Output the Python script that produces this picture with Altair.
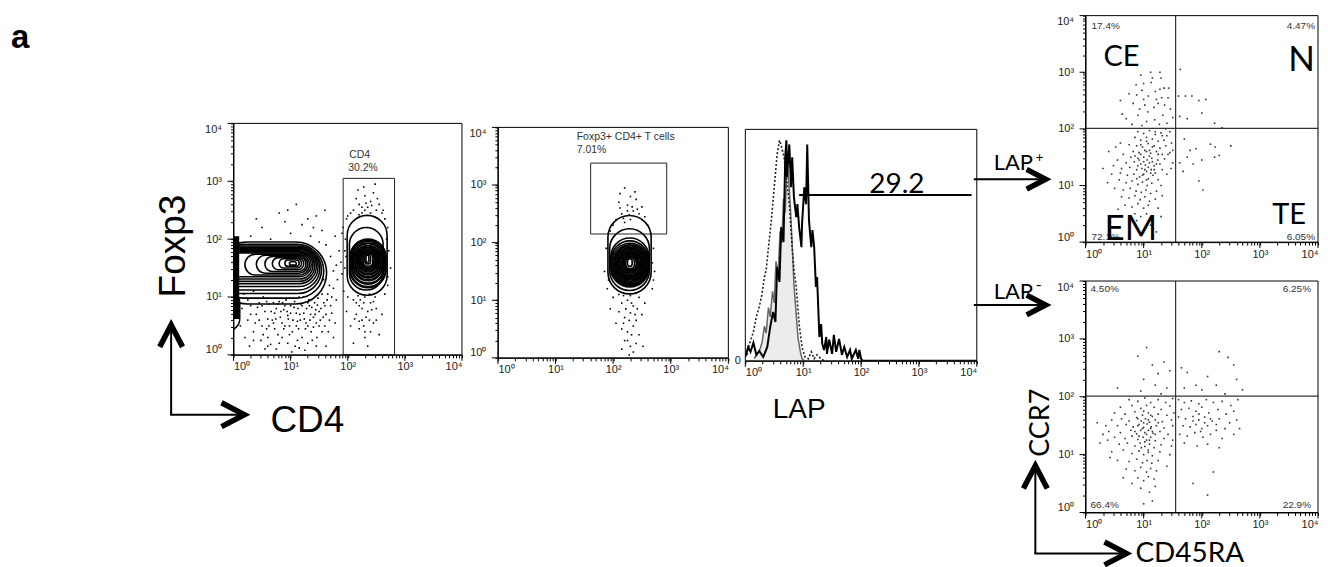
import altair as alt
import numpy as np
import pandas as pd

SANS = "Liberation Sans"
HUM = "Lato"

# ------------------------------------------------------------------
# Panel 1 : CD4 (x) vs Foxp3 (y), log10 units.  contours: [x_lo, x_hi, y_lo, y_hi]
p1_left_contours = [
    [-0.3, 1.63, 0.88, 1.95], [-0.3, 1.58, 0.98, 1.91], [-0.3, 1.54, 1.06, 1.88],
    [-0.3, 1.51, 1.12, 1.86], [-0.3, 1.48, 1.18, 1.84], [-0.3, 1.45, 1.23, 1.82],
    [-0.3, 1.42, 1.27, 1.80], [-0.3, 1.39, 1.31, 1.78], [-0.3, 1.36, 1.35, 1.76],
    [0.20, 1.33, 1.38, 1.74], [0.40, 1.30, 1.41, 1.72], [0.55, 1.27, 1.44, 1.70],
    [0.68, 1.23, 1.47, 1.68], [0.80, 1.19, 1.50, 1.66], [0.90, 1.15, 1.53, 1.64],
    [0.98, 1.10, 1.55, 1.61],
]
p1_band = [[-0.3, 0.10, 0.62, 2.05]]
p1_band_loop = [[-0.3, 0.11, 0.42, 1.10]]
p1_right_contours = [
    [1.99, 2.69, 1.03, 2.41], [2.03, 2.62, 1.12, 2.20], [2.04, 2.67, 1.16, 2.00],
    [2.05, 2.66, 1.18, 1.98], [2.07, 2.64, 1.22, 1.96], [2.08, 2.63, 1.24, 1.93],
    [2.10, 2.61, 1.28, 1.92], [2.11, 2.60, 1.30, 1.89], [2.13, 2.58, 1.33, 1.88],
    [2.14, 2.57, 1.35, 1.86], [2.16, 2.55, 1.38, 1.85], [2.17, 2.54, 1.40, 1.83],
    [2.19, 2.52, 1.43, 1.82], [2.20, 2.51, 1.45, 1.80], [2.22, 2.49, 1.47, 1.79],
    [2.23, 2.48, 1.49, 1.78], [2.25, 2.46, 1.51, 1.77], [2.27, 2.44, 1.53, 1.76],
    [2.30, 2.40, 1.57, 1.74], [2.32, 2.37, 1.60, 1.72],
]
p1_gate = [[1.92, 2.82, 0.0, 3.05]]
p1_dots = [
    (0.15, 0.8), (0.25, 0.6), (0.3, 0.85), (0.35, 0.4), (0.4, 0.7), (0.45, 0.9), (0.5, 0.5),
    (0.55, 0.75), (0.6, 0.3), (0.62, 0.88), (0.68, 0.6), (0.72, 0.45), (0.75, 0.8), (0.8, 0.2),
    (0.82, 0.65), (0.86, 0.9), (0.9, 0.5), (0.94, 0.75), (0.98, 0.35), (1.0, 0.85), (1.04, 0.6),
    (1.08, 0.15), (1.1, 0.72), (1.14, 0.45), (1.18, 0.88), (1.2, 0.3), (1.24, 0.62), (1.28, 0.8),
    (1.3, 0.5), (1.35, 0.7), (1.38, 0.25), (1.42, 0.9), (1.45, 0.55), (1.5, 0.75), (1.55, 0.4),
    (1.6, 0.85), (1.68, 0.6), (1.75, 0.3), (0.2, 0.3), (0.28, 0.15), (0.55, 0.1), (0.7, 0.9),
    (0.92, 0.95), (1.15, 1.0), (1.32, 0.95), (1.48, 0.98), (0.38, 0.55), (0.65, 0.18),
    (1.62, 0.15), (1.02, 0.05), (0.48, 0.25), (0.78, 0.35), (1.25, 0.08), (0.12, 0.5),
    (0.18, 1.05), (0.35, 1.1), (0.52, 1.0), (0.6, 0.62), (0.72, 0.72), (0.85, 0.55), (0.88, 0.78),
    (0.96, 0.62), (1.06, 0.82), (1.12, 0.58), (1.16, 0.7), (1.22, 1.0), (1.26, 0.45), (1.33, 0.85),
    (1.4, 0.65), (1.44, 0.78), (1.52, 0.6), (1.58, 0.9), (1.62, 0.7), (1.7, 0.85), (0.42, 0.82),
    (0.58, 0.45), (0.66, 0.75), (0.8, 0.92), (0.98, 0.5), (1.36, 0.4), (1.46, 0.3), (1.55, 1.05),
    (1.75, 1.15), (0.25, 0.95),
    (0.3, 0.7), (0.45, 0.6), (0.5, 0.85), (0.58, 0.92), (0.62, 0.5), (0.7, 0.55), (0.74, 0.62),
    (0.77, 0.88), (0.83, 0.75), (0.88, 0.45), (0.9, 0.85), (0.95, 0.68), (1.0, 0.72), (1.03, 0.4),
    (1.07, 0.92), (1.1, 0.5), (1.13, 0.8), (1.17, 0.6), (1.2, 0.85), (1.23, 0.72), (1.27, 0.55),
    (1.3, 0.9), (1.34, 0.6), (1.37, 0.82), (1.4, 0.48), (1.43, 0.7), (1.47, 0.86), (1.5, 0.5),
    (1.53, 0.8), (1.57, 0.65), (1.6, 0.5), (1.64, 0.95), (1.66, 0.4), (1.72, 0.72), (1.78, 0.55),
    (1.8, 0.95), (0.35, 0.25), (0.52, 0.35), (0.6, 0.15), (0.85, 0.3), (0.95, 0.2), (1.12, 0.25),
    (1.3, 0.2), (1.45, 0.15), (1.15, 0.12), (0.75, 0.1),
    (0.5, 2.2), (0.8, 2.45), (1.0, 2.1), (1.2, 2.25), (1.35, 2.05), (1.45, 2.4), (1.55, 2.15),
    (1.62, 1.9), (1.7, 1.7), (1.75, 1.45), (1.68, 1.2), (1.72, 1.0), (1.8, 1.55), (1.85, 1.8),
    (1.78, 2.05), (1.6, 2.5), (0.3, 2.05), (0.65, 2.0), (0.9, 2.3), (1.1, 2.6), (1.3, 2.35),
    (1.58, 1.3), (1.65, 1.05), (1.82, 1.3), (0.4, 2.35), (1.5, 1.95), (1.4, 2.2), (1.88, 1.6),
    (1.9, 2.1), (0.95, 2.5),
    (2.1, 2.5), (2.2, 2.6), (2.3, 2.75), (2.35, 2.55), (2.4, 2.65), (2.45, 2.8), (2.5, 2.5),
    (2.28, 2.9), (2.15, 2.7), (2.55, 2.6), (2.05, 2.45), (2.6, 2.45), (2.4, 2.45), (2.25, 2.45),
    (2.48, 2.95), (2.18, 2.85), (2.25, 2.55), (2.32, 2.62), (2.42, 2.58), (2.3, 2.5), (2.2, 2.42),
    (2.52, 2.7), (2.0, 2.4), (2.62, 2.5),
    (1.92, 2.2), (1.95, 1.8), (1.9, 1.4), (1.93, 1.1), (2.7, 2.2), (2.72, 1.8), (2.75, 1.5),
    (2.7, 1.2), (2.65, 2.35), (1.98, 2.35), (2.0, 1.0), (2.65, 1.05), (1.95, 1.5), (1.97, 1.7),
    (1.96, 2.0), (2.68, 1.6), (2.7, 1.35), (2.68, 2.0),
    (2.1, 0.95), (2.2, 0.85), (2.3, 1.0), (2.4, 0.9), (2.5, 0.8), (2.15, 0.7), (2.25, 0.6),
    (2.35, 0.75), (2.45, 0.55), (2.2, 0.45), (2.3, 0.3), (2.4, 0.4), (2.05, 0.5), (2.55, 0.35),
    (2.1, 0.2), (2.35, 0.15), (2.28, 0.9), (2.38, 1.05), (2.18, 1.02), (2.48, 1.0), (1.98, 0.75),
    (2.6, 0.7), (2.15, 0.9), (2.25, 0.8), (2.32, 0.65), (2.42, 0.78), (2.28, 0.5), (2.38, 0.6),
    (2.22, 0.95), (2.45, 0.92), (2.12, 0.62), (2.5, 0.6), (2.3, 0.4), (2.2, 0.58),
]

# ------------------------------------------------------------------
# Panel 2 : gated CD4+ cells
p2_contours = [
    [1.91, 2.66, 1.11, 2.47], [1.94, 2.63, 1.17, 2.24], [1.96, 2.62, 1.23, 2.08],
    [1.97, 2.61, 1.25, 2.03], [1.98, 2.61, 1.27, 1.99], [2.00, 2.60, 1.29, 1.96],
    [2.01, 2.59, 1.31, 1.94], [2.03, 2.57, 1.33, 1.92], [2.04, 2.56, 1.35, 1.90],
    [2.06, 2.54, 1.37, 1.88], [2.07, 2.53, 1.39, 1.86], [2.09, 2.51, 1.41, 1.85],
    [2.10, 2.50, 1.43, 1.83], [2.12, 2.48, 1.45, 1.82], [2.14, 2.46, 1.47, 1.80],
    [2.16, 2.44, 1.49, 1.79], [2.18, 2.42, 1.51, 1.77], [2.20, 2.40, 1.53, 1.76],
    [2.22, 2.37, 1.55, 1.74], [2.25, 2.33, 1.59, 1.72],
]
p2_gate = [[1.61, 2.93, 2.15, 3.38]]
p2_dots = [
    (2.2, 2.95), (2.3, 2.8), (2.1, 2.7), (2.25, 2.65), (2.4, 2.75), (2.35, 2.55), (2.15, 2.5),
    (2.45, 2.5), (2.05, 2.4), (2.55, 2.45), (2.3, 2.4), (2.0, 2.3), (2.6, 2.3), (2.2, 2.35),
    (2.5, 2.62), (2.12, 2.85), (2.38, 2.88), (2.25, 2.55), (2.33, 2.62), (2.42, 2.58),
    (2.18, 2.42), (2.28, 2.48), (2.5, 2.4), (2.12, 2.6),
    (1.88, 1.9), (1.85, 1.5), (1.9, 1.2), (2.7, 1.9), (2.72, 1.5), (2.68, 1.2), (1.95, 2.2),
    (2.65, 2.15), (1.95, 1.6), (2.68, 1.65), (1.92, 1.35), (2.7, 1.35),
    (2.0, 1.05), (2.15, 0.95), (2.25, 1.0), (2.35, 0.9), (2.45, 1.05), (2.55, 0.95), (2.1, 0.8),
    (2.2, 0.7), (2.3, 0.78), (2.4, 0.65), (2.5, 0.75), (2.05, 0.6), (2.15, 0.5), (2.25, 0.45),
    (2.35, 0.55), (2.45, 0.4), (2.2, 0.3), (2.3, 0.2), (2.4, 0.25), (2.28, 0.05), (2.15, 0.15),
    (2.52, 0.2), (2.18, 1.08), (2.4, 1.12), (1.95, 0.85), (2.32, 0.95), (2.22, 0.85),
    (2.42, 0.85), (2.28, 0.65), (2.18, 0.6), (2.38, 0.75), (2.32, 0.4), (2.25, 0.3), (2.35, 0.1),
    (2.3, 1.08), (2.1, 1.1),
]

# ------------------------------------------------------------------
# Panel 3 : LAP histograms (x log10, y % of max)
h_ctrl_x = [0.15, 0.24, 0.29, 0.33, 0.36, 0.40, 0.43, 0.47, 0.50, 0.53, 0.57, 0.60, 0.63,
            0.66, 0.69, 0.72, 0.75, 0.78, 0.81, 0.84, 0.88, 0.91, 0.95, 0.98, 1.02]
h_ctrl_y = [1, 4, 8, 15, 12, 23, 19, 30, 25, 43, 38, 56, 51, 70, 64, 86, 78, 66, 50, 33, 20,
            10, 4, 1, 0]
h_dot_x = [0.03, 0.07, 0.14, 0.19, 0.24, 0.28, 0.33, 0.36, 0.41, 0.45, 0.50, 0.53, 0.55, 0.59,
           0.62, 0.67, 0.72, 0.76, 0.81, 0.84, 0.88, 0.93, 0.98, 1.03, 1.09, 1.14, 1.19, 1.24,
           1.29, 1.36]
h_dot_y = [2.6, 7.3, 12.5, 19.0, 23.3, 27.6, 36.2, 39.2, 51.3, 60.8, 75.0, 83.6, 89.2, 95.3,
           93.1, 87.9, 77.2, 67.7, 49.1, 39.7, 31.9, 15.9, 6.0, 1.7, 0.9, 3.9, 0.9, 2.6, 1.3, 0]
h_lap_x = [0.0, 0.05, 0.09, 0.14, 0.19, 0.24, 0.31, 0.38, 0.43, 0.48, 0.52, 0.55, 0.59, 0.62,
           0.66, 0.69, 0.71, 0.72, 0.76, 0.79, 0.81, 0.84, 0.88, 0.90, 0.93, 0.97, 0.98, 1.02,
           1.05, 1.07, 1.10, 1.14, 1.16, 1.19, 1.22, 1.24, 1.28, 1.31, 1.33, 1.36, 1.40, 1.41,
           1.45, 1.50, 1.53, 1.57, 1.62, 1.67, 1.71, 1.76, 1.81, 1.84, 1.91, 1.95, 1.97, 2.00,
           2.03, 4.0]
h_lap_y = [1.7, 6.0, 3.9, 7.8, 2.6, 4.3, 1.7, 6.0, 14.7, 21.1, 16.8, 40.5, 34.1, 57.8, 51.3,
           87.9, 95.3, 79.3, 93.5, 75.0, 87.9, 70.7, 62.1, 67.7, 57.8, 49.1, 59.1, 75.0, 67.7,
           93.5, 60.8, 49.1, 56.5, 49.1, 31.9, 36.2, 10.3, 15.9, 7.3, 4.7, 10.3, 3.0, 9.1, 3.0,
           11.2, 3.9, 9.5, 2.6, 6.0, 1.7, 4.7, 0.9, 4.7, 0.9, 4.7, 0.9, 0, 0]
lap_gate = [[0.93, 3.91, 71.7]]

# ------------------------------------------------------------------
# Right panels : CD45RA (x) vs CCR7 (y), log10 units
quad_x, quad_y = 1.55, 2.01
lapp_dots = [
    (0.95, 2.95), (1.12, 3.0), (1.28, 3.0), (1.0, 2.8), (1.13, 2.82), (1.35, 2.72), (1.28, 2.7),
    (0.75, 2.62), (0.88, 2.6), (0.97, 2.68), (1.08, 2.58), (1.2, 2.66), (1.31, 2.55), (1.43, 2.72),
    (0.82, 2.45), (1.02, 2.42), (1.25, 2.45), (1.36, 2.42), (0.7, 2.18), (0.9, 2.24), (1.07, 2.3),
    (1.19, 2.16), (1.33, 2.24), (0.97, 2.06), (1.4, 2.1), (0.63, 2.26), (1.15, 2.9), (1.22, 2.52),
    (0.93, 2.35), (1.46, 2.35), (1.05, 2.13), (0.8, 2.08), (1.27, 2.08), (1.42, 2.55), (0.87, 2.78),
    (1.5, 2.2), (0.6, 2.5), (1.18, 2.38), (1.3, 2.9), (1.0, 2.52),
    (1.63, 3.05), (1.6, 2.58), (1.72, 2.58), (1.83, 2.58), (1.95, 2.5), (2.07, 2.52), (1.62, 2.22),
    (1.75, 2.18), (2.0, 2.28), (2.22, 2.1), (2.35, 2.02),
    (1.7, 1.82), (1.8, 1.62), (1.9, 1.65), (1.75, 1.5), (2.0, 1.45), (1.62, 1.4), (1.85, 1.38),
    (2.15, 1.73), (2.23, 1.68), (2.3, 1.53), (2.22, 1.5), (2.5, 1.7), (1.95, 1.08), (2.02, 0.92),
    (1.68, 1.25),
    (0.9, 1.95), (1.0, 1.92), (1.1, 1.97), (1.2, 1.9), (1.3, 1.93), (1.4, 1.88), (0.85, 1.85),
    (0.95, 1.8), (1.05, 1.85), (1.15, 1.82), (1.25, 1.78), (1.35, 1.8), (1.48, 1.75), (0.75, 1.72),
    (0.88, 1.7), (0.98, 1.68), (1.08, 1.74), (1.18, 1.7), (1.28, 1.66), (1.38, 1.7), (0.6, 1.75),
    (0.82, 1.6), (0.92, 1.58), (1.02, 1.62), (1.12, 1.57), (1.22, 1.6), (1.32, 1.55), (1.45, 1.58),
    (0.65, 1.55), (0.78, 1.5), (0.9, 1.48), (1.0, 1.5), (1.06, 1.45), (1.14, 1.48), (1.24, 1.45),
    (1.36, 1.47), (0.55, 1.45), (0.7, 1.4), (0.84, 1.42), (0.95, 1.38), (1.03, 1.36), (1.1, 1.4),
    (1.18, 1.35), (1.28, 1.38), (1.5, 1.4), (0.48, 1.35), (0.62, 1.3), (0.76, 1.32), (0.88, 1.28),
    (0.97, 1.3), (1.05, 1.25), (1.13, 1.28), (1.2, 1.22), (1.32, 1.28), (0.45, 1.2), (0.6, 1.22),
    (0.72, 1.18), (0.83, 1.2), (0.93, 1.15), (1.0, 1.2), (1.08, 1.12), (1.16, 1.18), (1.25, 1.1),
    (1.4, 1.2), (0.58, 1.1), (0.7, 1.05), (0.8, 1.08), (0.9, 1.02), (0.98, 1.06), (1.06, 1.0),
    (1.14, 1.04), (1.3, 1.0), (0.5, 0.95), (0.65, 0.92), (0.77, 0.95), (0.87, 0.9), (0.96, 0.88),
    (1.04, 0.92), (1.12, 0.86), (1.22, 0.9), (0.62, 0.8), (0.75, 0.78), (0.85, 0.82), (0.94, 0.75),
    (1.02, 0.8), (1.1, 0.72), (1.2, 0.76), (1.32, 0.82), (0.68, 0.65), (0.8, 0.62), (0.9, 0.68),
    (1.0, 0.6), (1.08, 0.65), (1.25, 0.6), (0.85, 0.5), (0.95, 0.45), (1.05, 0.5), (1.15, 0.42),
    (0.88, 0.38), (1.12, 0.3), (1.22, 0.18), (0.3, 1.3), (0.4, 1.6), (0.52, 1.68), (1.45, 1.95),
    (1.42, 1.55), (1.5, 1.62), (1.47, 1.3), (0.38, 1.05), (0.56, 0.58), (1.3, 0.45),
    (0.95, 1.55), (1.05, 1.6), (1.1, 1.52), (1.0, 1.42), (0.92, 1.45), (1.08, 1.32), (1.15, 1.42),
    (0.9, 1.35), (1.02, 1.28), (1.12, 1.22), (0.98, 1.18), (0.88, 1.12), (1.05, 1.1), (1.18, 1.28),
    (1.22, 1.38), (1.1, 1.62), (0.85, 1.52), (1.25, 1.55), (1.15, 1.68), (0.95, 1.72), (1.05, 1.78),
    (1.2, 1.95), (1.32, 1.88), (1.38, 2.0),
]
lapn_dots = [
    (0.9, 2.7), (1.05, 2.85), (1.15, 2.55), (1.25, 2.4), (1.35, 2.6), (1.45, 2.45), (1.0, 2.3),
    (1.2, 2.2), (1.4, 2.15), (0.95, 2.1), (1.3, 2.05), (0.55, 2.15),
    (1.65, 2.5), (1.75, 2.42), (2.3, 2.78), (2.45, 2.68), (2.55, 2.55), (2.1, 2.35), (1.9, 2.2),
    (2.0, 2.12), (2.25, 2.2), (2.6, 2.3), (2.7, 2.12), (1.7, 2.15), (2.4, 2.05),
    (1.6, 1.95), (1.7, 1.9), (1.82, 1.93), (1.95, 1.88), (2.08, 1.95), (2.2, 1.9), (2.35, 1.92),
    (2.5, 1.85), (2.62, 1.95), (1.65, 1.78), (1.78, 1.8), (1.9, 1.75), (2.0, 1.82), (2.12, 1.72),
    (2.28, 1.78), (2.42, 1.7), (2.55, 1.75), (1.6, 1.65), (1.72, 1.62), (1.85, 1.66), (1.95, 1.6),
    (2.05, 1.65), (2.18, 1.58), (2.3, 1.62), (2.48, 1.55), (2.6, 1.6), (1.68, 1.5), (1.8, 1.48),
    (1.9, 1.52), (2.0, 1.45), (2.1, 1.5), (2.25, 1.42), (2.4, 1.45), (1.62, 1.35), (1.75, 1.32),
    (1.88, 1.38), (2.02, 1.3), (2.15, 1.35), (2.35, 1.28), (2.55, 1.35), (1.7, 1.2), (1.92, 1.15),
    (2.1, 1.18), (2.3, 1.12), (2.65, 1.45), (1.85, 0.5), (2.1, 0.3), (2.2, 0.7),
    (1.95, 1.7), (2.05, 1.55), (2.15, 1.62), (1.85, 1.58), (2.25, 1.52), (1.98, 1.4),
    (0.75, 1.95), (0.9, 1.92), (1.02, 1.98), (1.12, 1.9), (1.25, 1.95), (1.38, 1.9), (1.5, 1.97),
    (0.6, 1.82), (0.8, 1.85), (0.95, 1.8), (1.05, 1.85), (1.18, 1.82), (1.3, 1.78), (1.45, 1.84),
    (0.5, 1.72), (0.68, 1.7), (0.85, 1.74), (0.98, 1.68), (1.08, 1.72), (1.15, 1.66), (1.25, 1.7),
    (1.4, 1.68), (1.52, 1.72), (0.45, 1.6), (0.62, 1.62), (0.75, 1.58), (0.88, 1.64), (0.96, 1.58),
    (1.03, 1.62), (1.1, 1.56), (1.2, 1.6), (1.32, 1.57), (1.48, 1.6), (0.55, 1.5), (0.7, 1.52),
    (0.82, 1.48), (0.92, 1.52), (1.0, 1.47), (1.06, 1.53), (1.13, 1.48), (1.22, 1.5), (1.35, 1.46),
    (1.5, 1.5), (0.4, 1.4), (0.6, 1.38), (0.78, 1.42), (0.88, 1.36), (0.95, 1.42), (1.02, 1.38),
    (1.08, 1.42), (1.16, 1.37), (1.28, 1.4), (1.42, 1.35), (0.5, 1.3), (0.68, 1.28), (0.8, 1.32),
    (0.9, 1.26), (0.99, 1.3), (1.05, 1.25), (1.12, 1.3), (1.2, 1.24), (1.35, 1.28), (1.5, 1.25),
    (0.58, 1.18), (0.72, 1.2), (0.85, 1.15), (0.94, 1.2), (1.02, 1.14), (1.1, 1.18), (1.18, 1.12),
    (1.3, 1.17), (0.45, 1.05), (0.65, 1.08), (0.8, 1.02), (0.92, 1.06), (1.0, 1.0), (1.08, 1.04),
    (1.15, 0.98), (1.28, 1.05), (1.45, 1.0), (0.55, 0.9), (0.75, 0.88), (0.88, 0.92), (0.98, 0.86),
    (1.06, 0.9), (1.14, 0.85), (1.25, 0.9), (0.7, 0.75), (0.85, 0.72), (0.95, 0.78), (1.05, 0.7),
    (1.12, 0.76), (1.22, 0.72), (0.9, 0.6), (1.0, 0.55), (1.08, 0.62), (1.18, 0.58), (0.8, 0.5),
    (0.95, 0.42), (1.1, 0.35), (1.2, 0.45), (1.0, 0.15), (1.15, 0.2), (0.35, 1.5), (0.38, 1.25),
    (0.42, 0.95), (0.3, 1.35), (0.2, 1.55), (0.25, 1.2), (0.65, 0.6), (1.4, 0.8), (1.48, 1.15),
    (1.0, 1.55), (1.08, 1.6), (1.12, 1.45), (0.98, 1.45), (0.9, 1.5), (1.05, 1.35), (1.15, 1.4),
    (0.92, 1.32), (1.02, 1.22), (1.1, 1.25), (0.96, 1.12), (1.08, 1.08), (1.2, 1.35), (0.85, 1.4),
    (1.25, 1.55), (1.12, 1.68), (0.9, 1.62), (1.0, 1.75),
]

# ------------------------------------------------------------------
ONE = pd.DataFrame({"k": [0]})
MAJ = [0, 1, 2, 3, 4]
MINORS = [float(round(d + np.log10(k), 4)) for d in range(4) for k in range(2, 10)]
LABEL_EXPR = ("datum.value == 0 ? '10⁰' : datum.value == 1 ? '10¹' : datum.value == 2 ? '10²' : "
              "datum.value == 3 ? '10³' : datum.value == 4 ? '10⁴' : ''")


def log_axis(pad, **extra):
    return alt.Axis(values=MAJ + MINORS, labelExpr=LABEL_EXPR, title=None, grid=False,
                    tickSize=3, tickColor="black", domainColor="black", labelFont=SANS,
                    labelFontSize=11, labelColor="#222", labelPadding=pad, labelFlush=True,
                    labelOverlap=False, **extra)


def make_panel(w, top, bot, xoffset=0, ydomain=(0, 4), yaxis=None):
    """A panel occupies x in [0, w] and y in [top, bot] of its chart (pixels)."""
    xa = log_axis(3, orient="bottom", offset=xoffset) if xoffset else log_axis(3, orient="bottom")
    return dict(
        w=w, top=top, bot=bot,
        sx=alt.Scale(domain=[0, 4], range=[0, w], nice=False, zero=False),
        sy=alt.Scale(domain=list(ydomain), range=[bot, top], nice=False, zero=False),
        ax=xa,
        ay=yaxis if yaxis is not None else log_axis(9, orient="left"),
    )


def X(P, f):
    return alt.X(f"{f}:Q", scale=P["sx"], axis=P["ax"])


def Y(P, f):
    return alt.Y(f"{f}:Q", scale=P["sy"], axis=P["ay"])


def rects(P, rows, **mk):
    df = pd.DataFrame(rows, columns=["x1", "x2", "y1", "y2"])
    return alt.Chart(df).mark_rect(**mk).encode(
        x=X(P, "x1"), x2=alt.X2("x2"), y=Y(P, "y1"), y2=alt.Y2("y2"))


def dots(P, pairs, color, size):
    df = pd.DataFrame(pairs, columns=["x", "y"])
    return alt.Chart(df).mark_square(size=size, color=color, opacity=1).encode(
        x=X(P, "x"), y=Y(P, "y"))


def major_ticks(P, with_y=True):
    df = pd.DataFrame({"v": MAJ})
    layers = [alt.Chart(df).mark_rule(color="black", strokeWidth=1).encode(
        x=X(P, "v"), y=alt.value(P["bot"]), y2=alt.value(P["bot"] + 6))]
    if with_y:
        layers.append(alt.Chart(df).mark_rule(color="black", strokeWidth=1).encode(
            y=Y(P, "v"), x=alt.value(0), x2=alt.value(-6)))
    return layers


def frame(P):
    return alt.Chart(ONE).mark_rect(fillOpacity=0, stroke="black", strokeWidth=1).encode(
        x=alt.value(0), x2=alt.value(P["w"]), y=alt.value(P["top"]), y2=alt.value(P["bot"]))


def txt(s, x, y, size, font=SANS, align="left", baseline="alphabetic", angle=0,
        weight="normal", color="black"):
    return alt.Chart(ONE).mark_text(text=s, align=align, baseline=baseline, angle=angle,
                                    fontSize=size, font=font, fontWeight=weight,
                                    color=color).encode(x=alt.value(x), y=alt.value(y))


def seg(x1, y1, x2, y2, w=2):
    return alt.Chart(ONE).mark_rule(color="black", strokeWidth=w).encode(
        x=alt.value(x1), y=alt.value(y1), x2=alt.value(x2), y2=alt.value(y2))


CHEV_R = "M-1,-0.52L0,0L-1,0.52"
CHEV_U = "M-0.52,1L0,0L0.52,1"


def chev(x, y, path, unit):
    return alt.Chart(ONE).mark_point(shape=path, size=(2 * unit) ** 2, filled=False,
                                     color="black", strokeWidth=5.5, opacity=1,
                                     strokeJoin="miter").encode(x=alt.value(x), y=alt.value(y))


def spacer(w, h):
    return alt.Chart(ONE).mark_text(text="").encode(
        x=alt.value(0), y=alt.value(0)).properties(width=w, height=h)


PCT = dict(size=10, color="#333")
CONT = dict(fillOpacity=0, stroke="black", strokeWidth=1.6, cornerRadius=999, clip=True)
FULL_H = 558

# ---------------- panel 1 (page x 233-462, y 116-348) ----------------
P1 = make_panel(229, 108, 340)
panel1 = alt.layer(
    rects(P1, p1_band, color="black", clip=True),
    rects(P1, p1_band_loop, fillOpacity=0, stroke="black", strokeWidth=1.5, cornerRadius=999, clip=True),
    dots(P1, p1_dots, "black", 2.5),
    rects(P1, p1_left_contours, **CONT),
    rects(P1, p1_right_contours, **CONT),
    rects(P1, p1_gate, fillOpacity=0, stroke="#222", strokeWidth=1),
    *major_ticks(P1),
    frame(P1),
    txt("CD4", 116, 108 + 35, 10.5, color="#333"),
    txt("30.2%", 115, 108 + 48, 10.5, color="#333"),
).properties(width=229, height=340)

# ---------------- panel 2 (page x 498-729, y 120-351) ----------------
P2 = make_panel(231, 112, 343)
panel2 = alt.layer(
    dots(P2, p2_dots, "black", 2.5),
    rects(P2, p2_contours, **CONT),
    rects(P2, p2_gate, fillOpacity=0, stroke="#222", strokeWidth=1),
    *major_ticks(P2),
    frame(P2),
    txt("Foxp3+ CD4+ T cells", 79, 112 + 13, 10.5, color="#333"),
    txt("7.01%", 79, 112 + 26, 10.5, color="#333"),
).properties(width=231, height=343)

# ---------------- panel 3 (page x 746-978, y 122-354) ----------------
AX3 = alt.Axis(values=[0], title=None, grid=False, ticks=False, domain=False, labelFont=SANS,
               labelFontSize=11, labelColor="#222", labelPadding=5, orient="left")
P3 = make_panel(232, 114, 346, ydomain=(0, 100), yaxis=AX3)
ctrl_df = pd.DataFrame({"x": h_ctrl_x, "y": h_ctrl_y})
dot_df = pd.DataFrame({"x": h_dot_x, "y": h_dot_y})
lap_df = pd.DataFrame({"x": h_lap_x, "y": h_lap_y})
gate3_df = pd.DataFrame(lap_gate, columns=["x1", "x2", "y"])
panel3 = alt.layer(
    alt.Chart(ctrl_df).mark_area(color="#ececec", opacity=1, clip=True).encode(
        x=X(P3, "x"), y=Y(P3, "y")),
    alt.Chart(ctrl_df).mark_line(color="#666", strokeWidth=1.5, clip=True).encode(
        x=X(P3, "x"), y=Y(P3, "y")),
    alt.Chart(dot_df).mark_line(color="#222", strokeWidth=1.6, strokeDash=[2, 2], clip=True).encode(
        x=X(P3, "x"), y=Y(P3, "y")),
    alt.Chart(lap_df).mark_line(color="black", strokeWidth=2, clip=True).encode(
        x=X(P3, "x"), y=Y(P3, "y")),
    alt.Chart(gate3_df).mark_rule(color="black", strokeWidth=2).encode(
        x=X(P3, "x1"), x2=alt.X2("x2"), y=Y(P3, "y")),
    *major_ticks(P3, with_y=False),
    frame(P3),
    txt("29.2", 152, 114 + 64, 28, font=HUM, align="center"),
    txt("LAP", 54, 114 + 289, 28, align="center"),
).properties(width=232, height=346)

# ---------------- right column (page x 1087-1320) ----------------
RT = make_panel(233, 0, 227, xoffset=-(FULL_H - 227))
RB = make_panel(233, 266, 498, xoffset=-(FULL_H - 498))


def quads(P):
    return [alt.Chart(pd.DataFrame({"qx": [quad_x]})).mark_rule(color="#333", strokeWidth=1.2).encode(
                x=X(P, "qx"), y=alt.value(P["top"]), y2=alt.value(P["bot"])),
            alt.Chart(pd.DataFrame({"qy": [quad_y]})).mark_rule(color="#333", strokeWidth=1.2).encode(
                y=Y(P, "qy"), x=alt.value(0), x2=alt.value(P["w"]))]


top_right = alt.layer(
    dots(RT, lapp_dots, "#333", 2.5),
    *quads(RT),
    *major_ticks(RT),
    frame(RT),
    txt("17.4%", 6, 10, baseline="middle", **PCT),
    txt("4.47%", 230, 10, align="right", baseline="middle", **PCT),
    txt("72.1%", 6, 222, baseline="middle", **PCT),
    txt("6.05%", 230, 222, align="right", baseline="middle", **PCT),
    txt("CE", 18, 50, 29, font=HUM),
    txt("N", 230, 55, 35, font=HUM, align="right"),
    txt("TE", 221, 209, 29, font=HUM, align="right"),
    txt("EM", 19, 225, 35, font=HUM),
)

bottom_right = alt.layer(
    dots(RB, lapn_dots, "#333", 2.5),
    *quads(RB),
    *major_ticks(RB),
    frame(RB),
    txt("4.50%", 5, 266 + 8, baseline="middle", **PCT),
    txt("6.25%", 226, 266 + 8, align="right", baseline="middle", **PCT),
    txt("66.4%", 5, 266 + 224, baseline="middle", **PCT),
    txt("22.9%", 226, 266 + 224, align="right", baseline="middle", **PCT),
    txt("CD45RA", 50, 548, 28, font=HUM),
)

right_col = alt.layer(top_right, bottom_right).resolve_scale(
    x="independent", y="independent").resolve_axis(
    x="independent", y="independent").properties(width=233, height=FULL_H)

# ---------------- annotations ----------------
left_annot = alt.layer(
    txt("a", 2, 32, 33, weight="bold"),
    txt("Foxp3", 176, 231, 37, align="center", angle=270),
    seg(162.5, 310, 162.5, 400),
    seg(161.5, 400, 236, 400),
    chev(162.5, 310, CHEV_U, 22),
    chev(236, 400, CHEV_R, 23),
    txt("CD4", 262, 417, 37),
).properties(width=225, height=FULL_H)

mid_annot = alt.layer(
    seg(-3, 164, 68, 164),
    chev(69, 164, CHEV_R, 19),
    txt("LAP", 17, 155, 22, font=HUM),
    txt("+", 63, 143, 14, font=HUM, align="center", baseline="middle"),
    seg(-3, 290, 68, 290),
    chev(69, 290, CHEV_R, 19),
    txt("LAP", 17, 284, 22, font=HUM),
    txt("-", 62, 270, 16, font=HUM, align="center", baseline="middle"),
    txt("CCR7", 72, 408, 27, font=HUM, align="center", angle=270),
    chev(58.7, 451, CHEV_U, 23),
    seg(58.7, 451, 58.7, 539),
    seg(57.7, 539, 150, 539),
    chev(150, 539, CHEV_R, 22),
).properties(width=109, height=FULL_H)

chart = alt.hconcat(
    left_annot, panel1, spacer(36, 1), panel2, spacer(17, 1), panel3, mid_annot, right_col,
    spacing=0, bounds="flush",
).properties(padding=0).configure_view(stroke="transparent")

chart.save("out.html", embed_options={"renderer": "svg", "actions": False})
